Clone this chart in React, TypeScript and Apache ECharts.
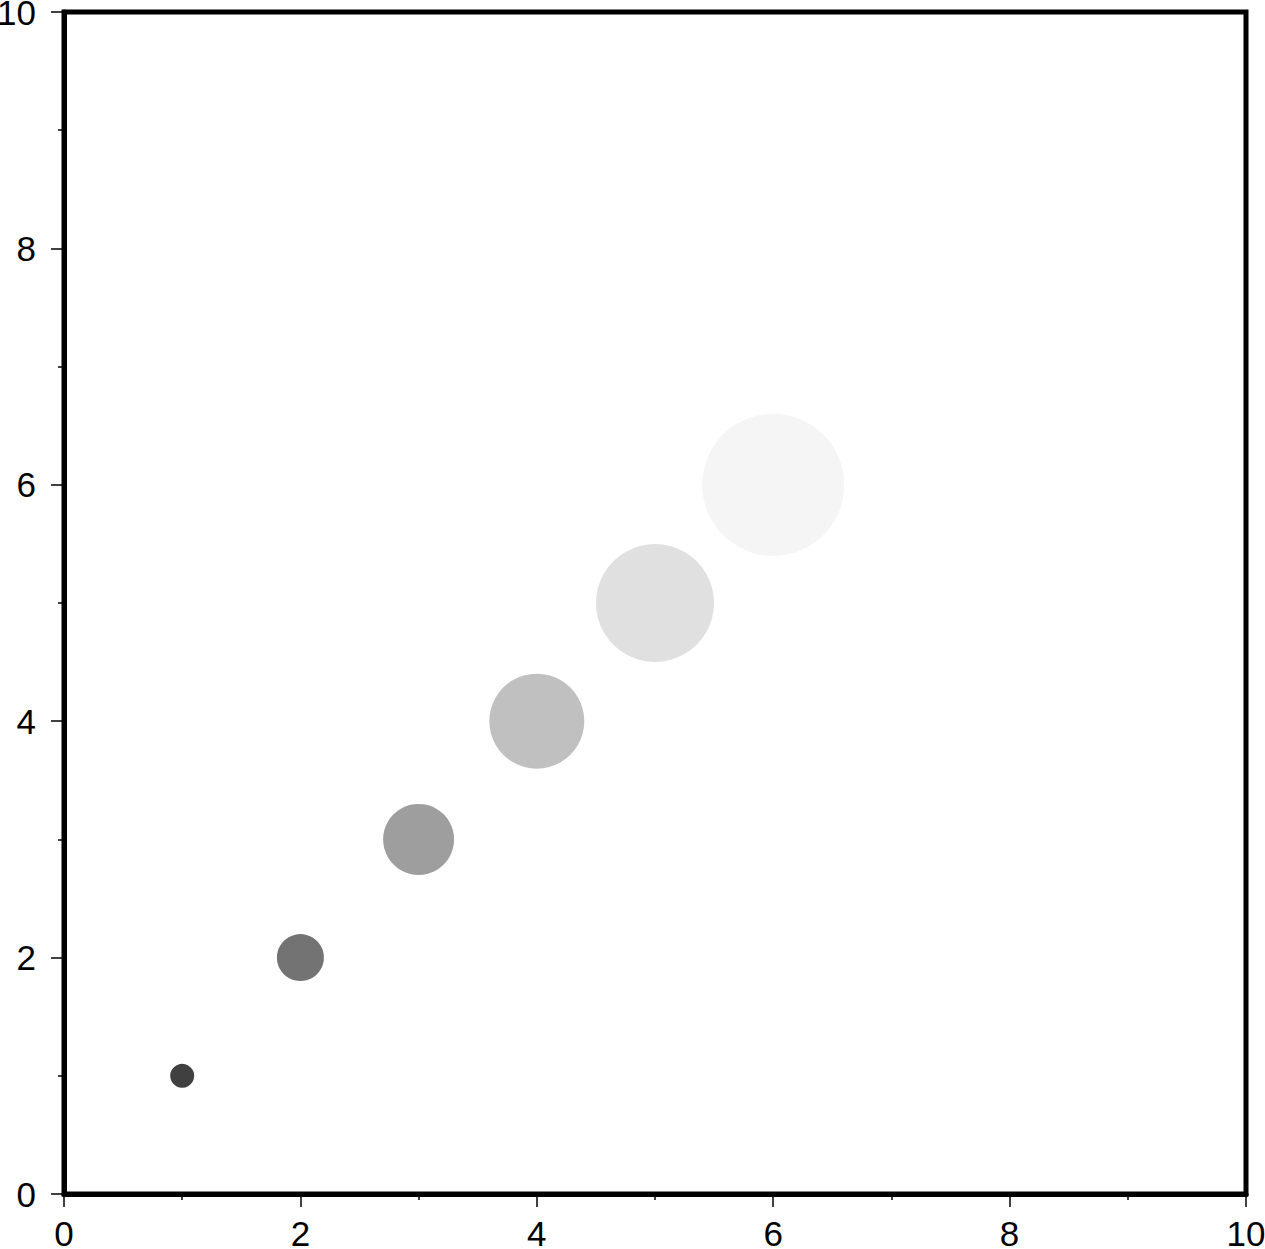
import React, { useEffect, useRef } from "react";
import * as echarts from "echarts";

const xValues = [1, 2, 3, 4, 5, 6];
const yValues = [1, 2, 3, 4, 5, 6];
const sizes = [24, 47, 71, 95, 118, 142];
const colors = ["#404040", "#737373", "#9e9e9e", "#c0c0c0", "#e0e0e0", "#f5f5f5"];
const tickLabels = ["0", "2", "4", "6", "8", "10"];

export default function App() {
  const ref = useRef<HTMLDivElement>(null);
  useEffect(() => {
    const chart = echarts.init(ref.current!, null, { renderer: "svg" });
    const font = "Liberation Sans";
    const axisCommon = {
      type: "value" as const,
      min: 0,
      max: 10,
      interval: 2,
      splitLine: { show: false },
      axisLine: { show: true, lineStyle: { color: "#000", width: 5 } },
      axisTick: { show: true, length: 13, lineStyle: { color: "#000", width: 1.5 } },
      minorTick: { show: true, splitNumber: 2, length: 6, lineStyle: { color: "#000", width: 1.5 } },
      minorSplitLine: { show: false },
    };
    chart.setOption({
      animation: false,
      backgroundColor: "#fff",
      grid: {
        left: 64,
        top: 12,
        width: 1182,
        height: 1182,
        containLabel: false,
        outerBoundsMode: "none",
        show: true,
        borderColor: "#000",
        borderWidth: 5,
        backgroundColor: "transparent",
      },
      xAxis: {
        ...axisCommon,
        axisLabel: {
          fontSize: 35,
          fontFamily: font,
          color: "#000",
          margin: 22,
          formatter: (v: number) => tickLabels[Math.round(v / 2)],
        },
      },
      yAxis: {
        ...axisCommon,
        axisLabel: {
          fontSize: 35,
          fontFamily: font,
          color: "#000",
          margin: 28,
          formatter: (v: number) => tickLabels[Math.round(v / 2)],
        },
      },
      series: [
        {
          type: "scatter",
          data: xValues.map((x, i) => ({
            value: [x, yValues[i]],
            symbolSize: sizes[i],
            itemStyle: { color: colors[i], opacity: 1 },
          })),
          symbol: "circle",
        },
      ],
    });
    return () => chart.dispose();
  }, []);
  return (
    <div
      ref={ref}
      style={{ position: "absolute", left: 0, top: 0, width: 1265, height: 1249 }}
    />
  );
}
